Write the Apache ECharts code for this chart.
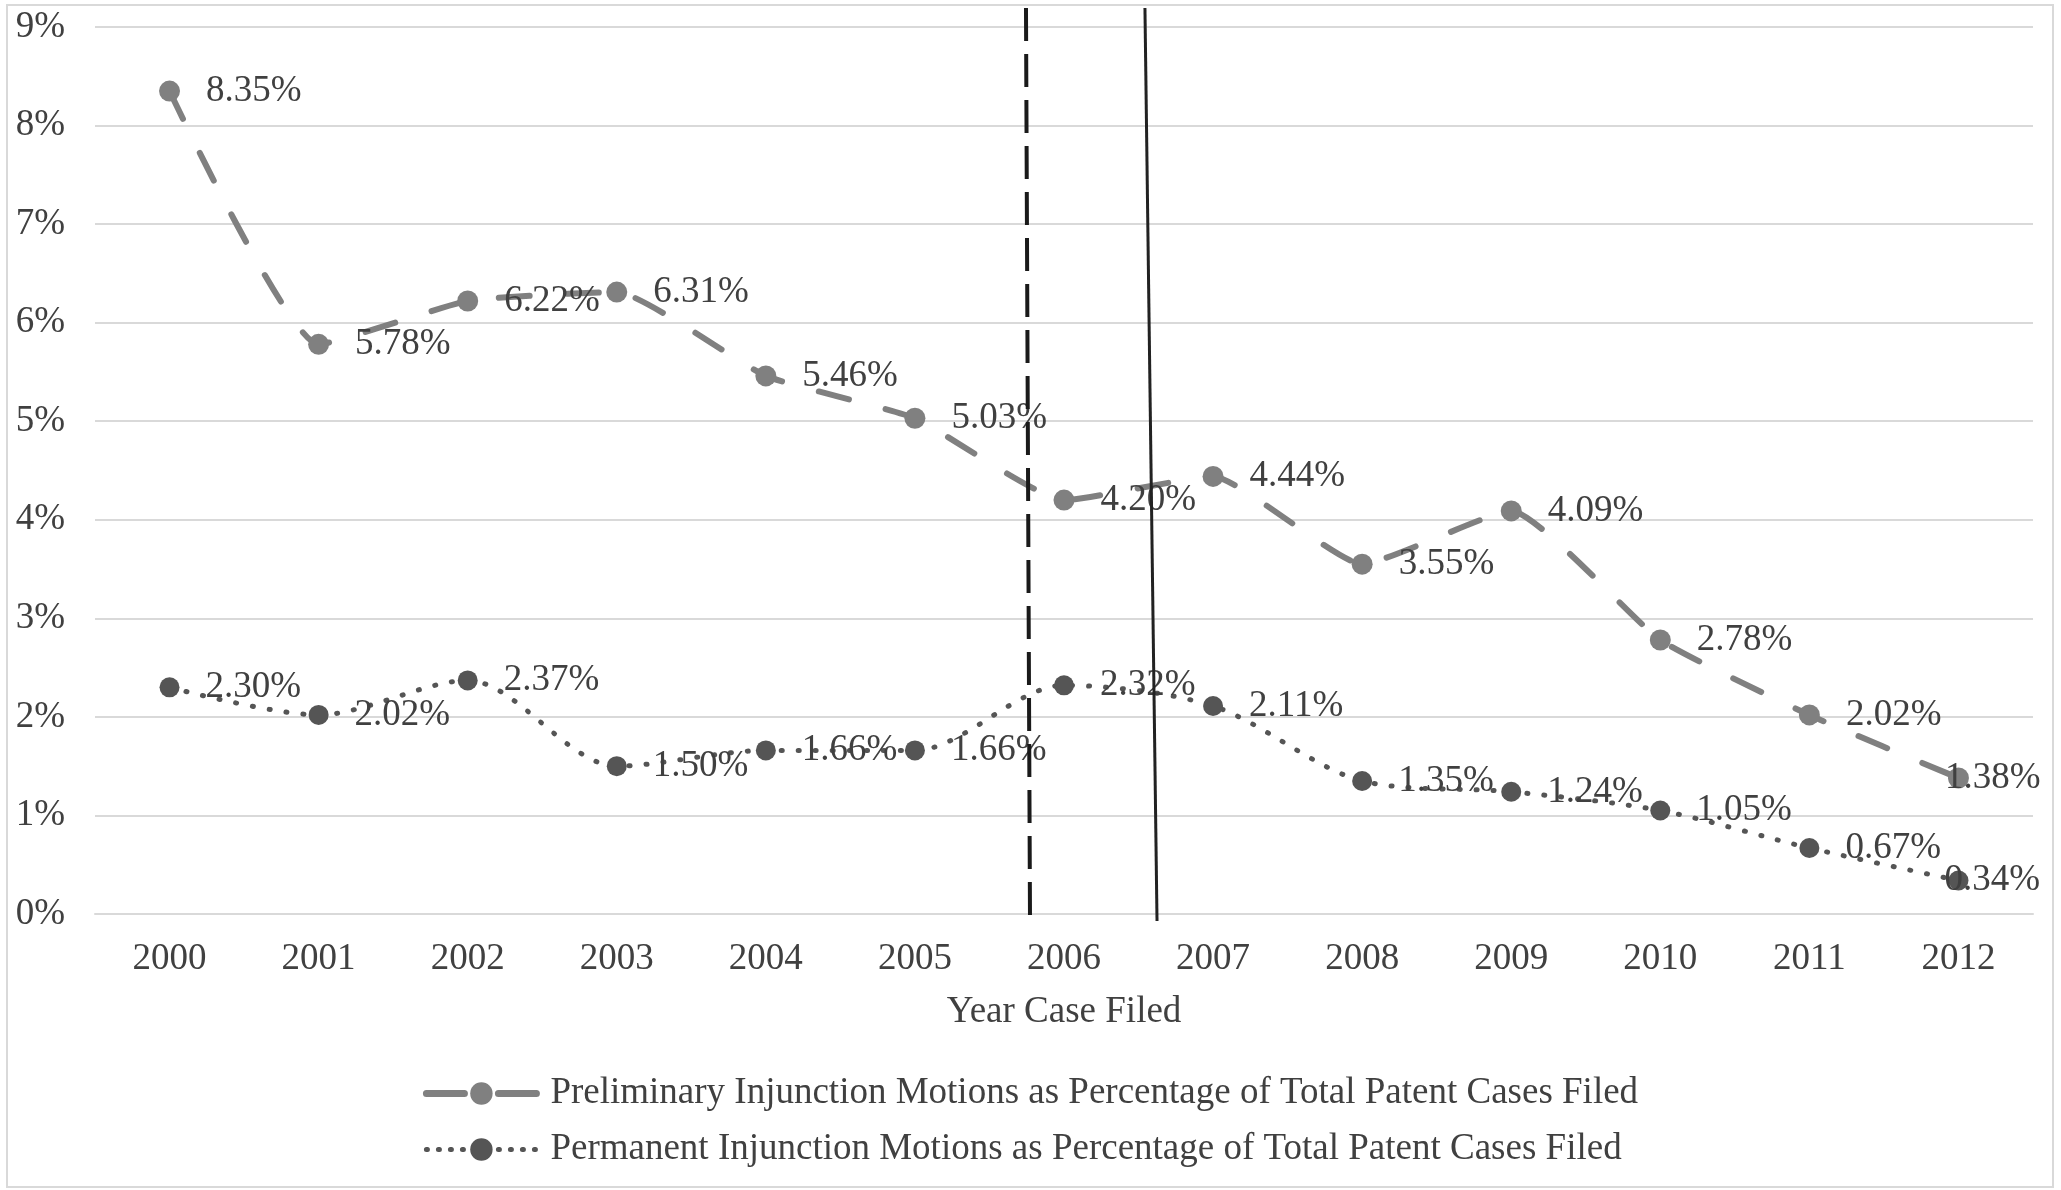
<!DOCTYPE html>
<html>
	<head>
		<meta charset="UTF-8">
		<title>injunction motions</title>
		<script src="https://cdn.jsdelivr.net/npm/echarts@6/dist/echarts.min.js"></script>
		<style>
			html, body {
				margin: 0;
				padding: 0;
				background: #fff;
			}
			#chart {
				position: absolute;
				left: 0;
				top: 0;
				width: 2061px;
				height: 1190px;
			}
			.frame {
				position: absolute;
				left: 6px;
				top: 4px;
				width: 2044px;
				height: 1180px;
				border: 2px solid #d9d9d9;
				pointer-events: none;
			}
		</style>
	</head>
	<body>
		<div id="chart"></div>
		<div class="frame"></div>

		<script>
			var years = ['2000', '2001', '2002', '2003', '2004', '2005', '2006', '2007', '2008', '2009', '2010', '2011', '2012'];
			var preliminary = [8.35, 5.78, 6.22, 6.31, 5.46, 5.03, 4.20, 4.44, 3.55, 4.09, 2.78, 2.02, 1.38];
			var permanent = [2.30, 2.02, 2.37, 1.50, 1.66, 1.66, 2.32, 2.11, 1.35, 1.24, 1.05, 0.67, 0.34];
			var yTicks = [0, 1, 2, 3, 4, 5, 6, 7, 8, 9];
			// the two vertical markers, in years (top end, bottom end)
			var dashedMark = [2005.745, 2005.772];
			var solidMark = [2006.543, 2006.624];

			var prelimName = 'Preliminary Injunction Motions as Percentage of Total Patent Cases Filed';
			var permName = 'Permanent Injunction Motions as Percentage of Total Patent Cases Filed';
			var serif = '"Liberation Serif", "DejaVu Serif", serif';

			// last label is pushed back inside the frame, like the original
			function withLabels(list) {
				var out = [];
				for (var i = 0; i < list.length; i++) {
					if (i == list.length - 1) {
						out.push({ value: list[i], label: { offset: [-50, 0] } });
					} else {
						out.push(list[i]);
					}
				}
				return out;
			}

			var labelStyle = {
				show: true,
				position: 'right',
				distance: 26,
				color: '#404040',
				fontFamily: serif,
				fontSize: 37,
				formatter: function(p) {
					return p.value.toFixed(2) + '%';
				}
			};

			var myChart = echarts.init(document.getElementById('chart'));
			var option = {
				animation: false,
				grid: [
					{ left: 95, right: 28, top: 27, bottom: 276 },
					{ left: 95, right: 28, top: 8, bottom: 269 }
				],
				legend: {
					orient: 'vertical',
					left: 'center',
					top: 1070,
					itemWidth: 110,
					itemHeight: 28,
					itemGap: 19,
					textStyle: {
						fontFamily: serif,
						fontSize: 37,
						color: '#404040',
						padding: [0, 0, 0, 9]
					},
					data: [
						{ name: prelimName, lineStyle: { width: 7, type: [38, 34], cap: 'round' } },
						{ name: permName, lineStyle: { width: 5, type: [1, 11], cap: 'round' } }
					]
				},
				xAxis: [{
					type: 'category',
					gridIndex: 0,
					data: years,
					boundaryGap: true,
					axisLine: { show: true, lineStyle: { color: '#d9d9d9', width: 2 } },
					axisTick: { show: false },
					axisLabel: {
						margin: 27,
						color: '#404040',
						fontFamily: serif,
						fontSize: 37
					},
					name: 'Year Case Filed',
					nameLocation: 'middle',
					nameGap: 80,
					nameTextStyle: {
						color: '#404040',
						fontFamily: serif,
						fontSize: 37
					}
				}, {
					type: 'value',
					gridIndex: 1,
					min: 1999.5,
					max: 2012.5,
					show: false
				}],
				yAxis: [{
					type: 'value',
					gridIndex: 0,
					min: yTicks[0],
					max: yTicks[yTicks.length - 1],
					interval: 1,
					axisLine: { show: false },
					axisTick: { show: false },
					splitLine: { lineStyle: { color: '#d9d9d9', width: 2 } },
					axisLabel: {
						margin: 30,
						color: '#404040',
						fontFamily: serif,
						fontSize: 37,
						formatter: '{value}%'
					}
				}, {
					type: 'value',
					gridIndex: 1,
					min: 0,
					max: 1,
					show: false
				}],
				series: [{
					name: prelimName,
					type: 'line',
					xAxisIndex: 0,
					yAxisIndex: 0,
					data: withLabels(preliminary),
					smooth: 0.15,
					symbol: 'circle',
					symbolSize: 21,
					itemStyle: { color: '#808080' },
					lineStyle: { color: '#808080', width: 6, type: [31, 38], cap: 'round' },
					label: labelStyle,
					z: 3
				}, {
					name: permName,
					type: 'line',
					xAxisIndex: 0,
					yAxisIndex: 0,
					data: withLabels(permanent),
					smooth: 0.3,
					symbol: 'circle',
					symbolSize: 20,
					itemStyle: { color: '#555555' },
					lineStyle: { color: '#555555', width: 5, type: [1, 16], cap: 'round' },
					label: labelStyle,
					z: 3
				}, {
					name: 'markers',
					type: 'line',
					xAxisIndex: 1,
					yAxisIndex: 1,
					data: [],
					markLine: {
						silent: true,
						symbol: 'none',
						label: { show: false },
						data: [
							[
								{ coord: [dashedMark[0], 1], lineStyle: { color: '#1a1a1a', width: 4, type: [33, 13] } },
								{ coord: [dashedMark[1], 0] }
							],
							[
								{ coord: [solidMark[0], 1], lineStyle: { color: '#222222', width: 3, type: 'solid' } },
								{ coord: [solidMark[1], 0] }
							]
						]
					},
					z: 4
				}]
			};
			myChart.setOption(option);
		</script>
	</body>
</html>
